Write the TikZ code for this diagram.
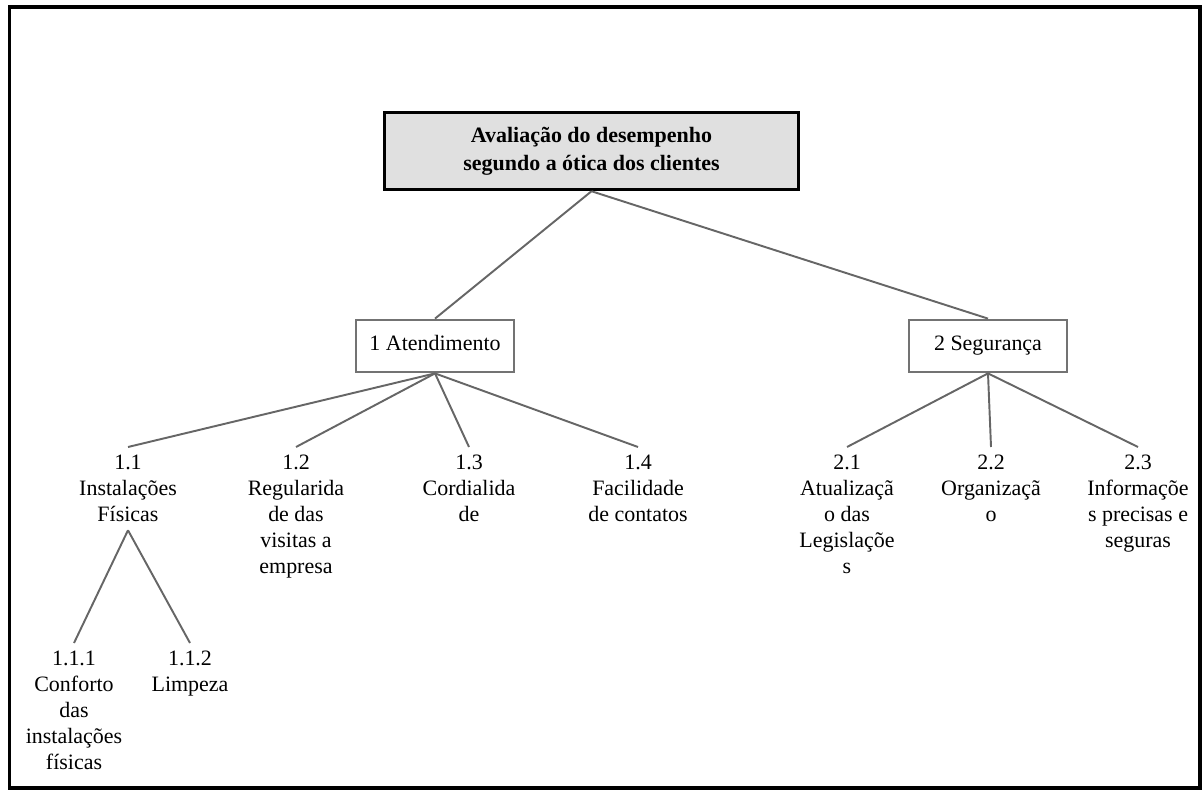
\documentclass[tikz,border=0pt]{standalone}
\usepackage{fontspec}
\setmainfont{Liberation Serif}
\usetikzlibrary{positioning}

\begin{document}
\begin{tikzpicture}[
  x=0.02cm, y=-0.02cm,
  font=\fontsize{12.5}{14.8}\selectfont,
  topbox/.style={rectangle, draw=black, line width=1.7pt, fill=black!12,
    minimum width=8.3cm, minimum height=1.55cm, align=center,
    font=\fontsize{12.5}{16}\selectfont\bfseries},
  midbox/.style={rectangle, draw=black!55, line width=1.3pt, fill=white,
    minimum width=3.15cm, minimum height=1.05cm, align=center,
    text height=1.6ex, text depth=0.4ex},
  leaf/.style={anchor=north, align=center, inner xsep=1pt, inner ysep=4.5pt},
  link/.style={draw=black!60, line width=1.1pt}
]
\useasboundingbox (0,0) rectangle (1202,790);
\draw[line width=0.08cm] (9.5,7.5) rectangle (1199.5,788);

\node[topbox] (root) at (591.5,151)
  {Avaliação do desempenho\\ segundo a ótica dos clientes};
\node[midbox] (atend) at (435,346) {1 Atendimento};
\node[midbox] (seg) at (988,346) {2 Segurança};

% primeiro nivel
\node[leaf] (n11) at (128,447) {1.1\\ Instalações\\ Físicas};
\node[leaf] (n12) at (296,447) {1.2\\ Regularida\\ de das\\ visitas a\\ empresa};
\node[leaf] (n13) at (469,447) {1.3\\ Cordialida\\ de};
\node[leaf] (n14) at (638,447) {1.4\\ Facilidade\\ de contatos};
\node[leaf] (n21) at (847,447) {2.1\\ Atualizaçã\\ o das\\ Legislaçõe\\ s};
\node[leaf] (n22) at (991,447) {2.2\\ Organizaçã\\ o};
\node[leaf] (n23) at (1138,447) {2.3\\ Informaçõe\\ s precisas e\\ seguras};

% segundo nivel
\node[leaf] (n111) at (74,643) {1.1.1\\ Conforto\\ das\\ instalações\\ físicas};
\node[leaf] (n112) at (190,643) {1.1.2\\ Limpeza};

\draw[link] (root.south) -- (atend.north);
\draw[link] (root.south) -- (seg.north);
\foreach \k in {n11,n12,n13,n14}
  \draw[link] (atend.south) -- (\k.north);
\foreach \k in {n21,n22,n23}
  \draw[link] (seg.south) -- (\k.north);
\draw[link] (n11.south) -- (n111.north);
\draw[link] (n11.south) -- (n112.north);
\end{tikzpicture}
\end{document}
